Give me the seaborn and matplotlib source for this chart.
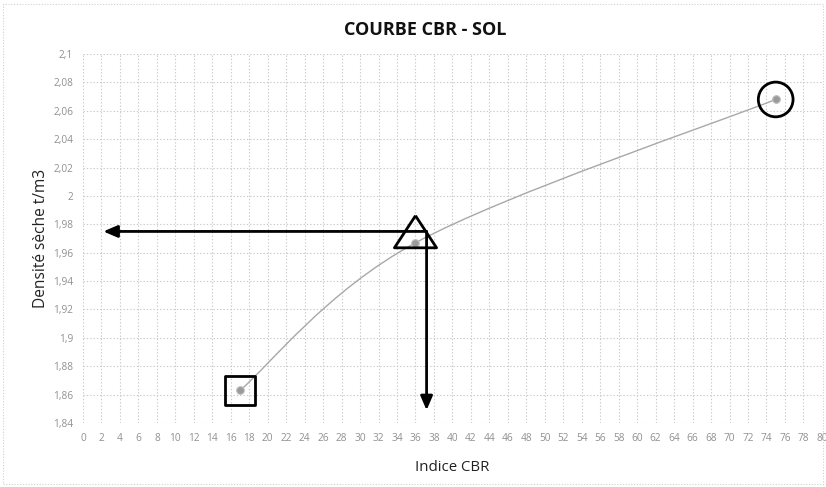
import numpy as np
import pandas as pd
import seaborn as sns
import matplotlib
matplotlib.use("Agg")
import matplotlib.pyplot as plt
from matplotlib.path import Path
from matplotlib.patches import PathPatch, Rectangle
from matplotlib.ticker import FuncFormatter, MultipleLocator

# ---- data ----
cbr_index = [17.0, 36.0, 75.0]
dry_density = [1.863, 1.967, 2.068]
read_cbr = 37.2      # value read on the curve (vertical arrow)
read_density = 1.975 # value read on the curve (horizontal arrow)

title = "COURBE CBR - SOL"
x_label = "Indice CBR"
y_label = "Densité sèche t/m3"

df = pd.DataFrame({"cbr": cbr_index, "density": dry_density})

sns.set_theme(style="white")
plt.rcParams['font.family'] = ['Open Sans', 'DejaVu Sans']

fig = plt.figure(figsize=(8.26, 4.87), dpi=100)
ax = fig.add_axes([0.1005, 0.1314, 0.8945, 0.7576])

ax.set_xlim(0, 80)
ax.set_ylim(1.84, 2.1)
ax.xaxis.set_major_locator(MultipleLocator(2))
ax.yaxis.set_major_locator(MultipleLocator(0.02))

def yfmt(v, pos):
    s = f"{v:.2f}".rstrip('0').rstrip('.')
    return s.replace('.', ',')
ax.yaxis.set_major_formatter(FuncFormatter(yfmt))
ax.xaxis.set_major_formatter(FuncFormatter(lambda v, p: f"{int(round(v))}"))

ax.grid(True, color="#c9c9c9", linestyle=(0, (1.2, 1.8)), linewidth=0.8)
for s in ax.spines.values():
    s.set_visible(False)
ax.tick_params(axis='both', length=0, labelsize=7.3, labelcolor="#909090", pad=7)

# smoothed curve (Catmull-Rom style Bezier like Excel smoothed line)
P = np.column_stack([df["cbr"].to_numpy(), df["density"].to_numpy()])
ext = np.vstack([P[0], P, P[-1]])
verts = [tuple(P[0])]
codes = [Path.MOVETO]
for i in range(len(P) - 1):
    p0, p1, p2, p3 = ext[i], ext[i + 1], ext[i + 2], ext[i + 3]
    c1 = p1 + (p2 - p0) / 6.0
    c2 = p2 - (p3 - p1) / 6.0
    verts += [tuple(c1), tuple(c2), tuple(p2)]
    codes += [Path.CURVE4] * 3
ax.add_patch(PathPatch(Path(verts, codes), facecolor='none', edgecolor="#a8a8a8", lw=1.0, zorder=3))

sns.scatterplot(data=df, x="cbr", y="density", ax=ax, s=30, color="#9a9a9a",
                edgecolor="#bcbcbc", linewidth=0.8, zorder=4, legend=False)

# hand-drawn style highlight shapes
ax.scatter([cbr_index[0]], [dry_density[0]], marker='s', s=21**2, facecolors='none',
           edgecolors='black', linewidths=2.0, zorder=5)
tri = [(0, 27), (-21, -5), (21, -5), (0, 27)]
ax.scatter([cbr_index[1]], [dry_density[1]], marker=tri, s=39**2, facecolors='none',
           edgecolors='black', linewidths=2.0, zorder=5)
ax.scatter([cbr_index[2]], [dry_density[2]], marker='o', s=25**2, facecolors='none',
           edgecolors='black', linewidths=2.0, zorder=5)

# reading arrows
arrow_kw = dict(arrowstyle='-|>,head_length=0.7,head_width=0.3', color='black', lw=2.0,
                shrinkA=0, shrinkB=0)
ax.annotate("", xy=(2.2, read_density), xytext=(read_cbr, read_density),
            arrowprops=arrow_kw, zorder=6)
ax.annotate("", xy=(read_cbr, 1.849), xytext=(read_cbr, read_density),
            arrowprops=arrow_kw, zorder=6)

ax.set_xlabel(x_label, fontsize=10.8, color="#222222", labelpad=12)
ax.set_ylabel(y_label, fontsize=11.2, color="#222222", labelpad=3)
fig.text(0.515, 0.938, title, ha='center', va='center', fontsize=13,
         fontweight='bold', color="#111111")

fig.patches.append(Rectangle((0.004, 0.006), 0.992, 0.985, transform=fig.transFigure,
                             fill=False, edgecolor="#d0d0d0", linestyle=(0, (1, 1.5)), lw=0.8))

fig.savefig("out.png", dpi=100, facecolor="white")
